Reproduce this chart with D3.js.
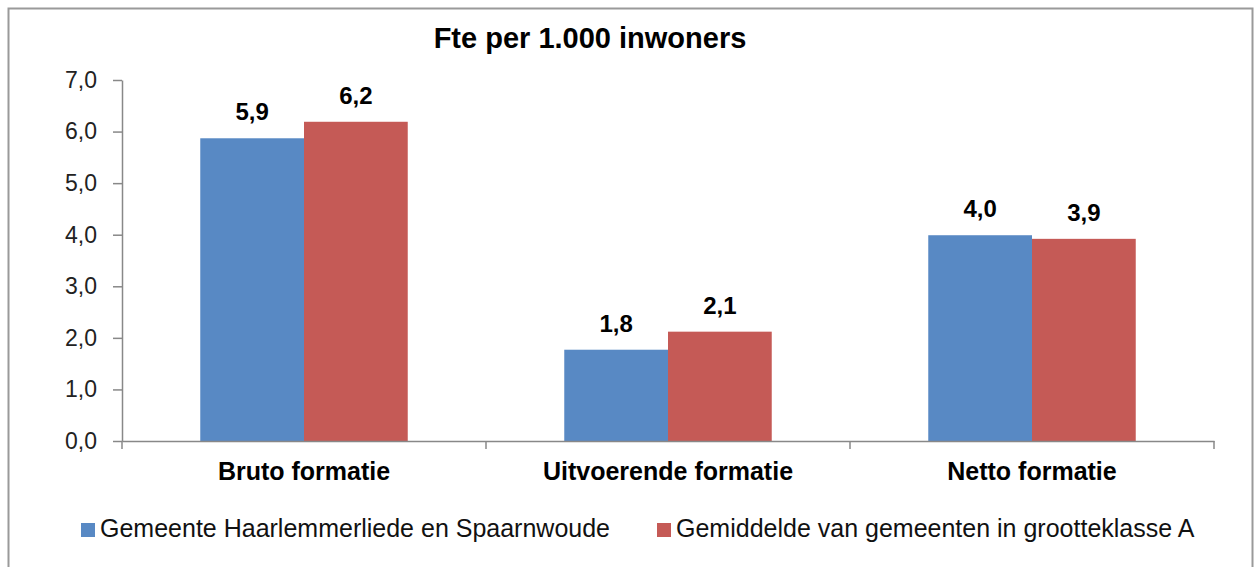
<!DOCTYPE html>
<html>
<head>
<meta charset="utf-8">
<script src="https://cdn.jsdelivr.net/npm/d3@7"></script>
<style>
  html, body { margin: 0; padding: 0; background: #fff; }
  svg { display: block; font-family: "Liberation Sans", Arial, sans-serif; }
</style>
</head>
<body>
<svg id="chart" width="1259" height="567"></svg>
<script>
const title = "Fte per 1.000 inwoners";
const categories = ["Bruto formatie", "Uitvoerende formatie", "Netto formatie"];
const seriesNames = ["Gemeente Haarlemmerliede en Spaarnwoude", "Gemiddelde van gemeenten in grootteklasse A"];
const seriesHaarlemmerliede = [5.87, 1.77, 3.99];
const seriesGrootteklasseA = [6.19, 2.12, 3.92];
const yTicks = [0, 1, 2, 3, 4, 5, 6, 7];
const colors = ["#5889C4", "#C55A56"];

const seriesValues = [seriesHaarlemmerliede, seriesGrootteklasseA];
const nl = d3.formatLocale({ decimal: ",", thousands: ".", grouping: [3], currency: ["€", ""] });
const fmt = nl.format(".1f");

const svg = d3.select("#chart");

// outer frame
svg.append("rect")
  .attr("x", 8.5).attr("y", 8.5)
  .attr("width", 1244).attr("height", 600)
  .attr("fill", "#fff").attr("stroke", "#9a9a9a").attr("stroke-width", 2);

const plot = { left: 122, right: 1214, top: 80, bottom: 441 };

const x = d3.scaleBand().domain(categories)
  .range([plot.left, plot.right]).paddingInner(0.43).paddingOuter(0.215);
const x1 = d3.scaleBand().domain(d3.range(seriesValues.length))
  .range([0, x.bandwidth()]).padding(0);
const y = d3.scaleLinear().domain([0, 7]).range([plot.bottom, plot.top]);

// title
svg.append("text")
  .attr("x", 590).attr("y", 48)
  .attr("text-anchor", "middle")
  .attr("font-size", 29).attr("font-weight", "bold").attr("fill", "#000")
  .text(title);

// bars
const groups = svg.append("g").selectAll("g")
  .data(categories).join("g")
  .attr("transform", d => `translate(${x(d)},0)`);

groups.selectAll("rect")
  .data((c, i) => seriesValues.map((s, k) => ({ k, v: s[i] })))
  .join("rect")
  .attr("x", d => x1(d.k))
  .attr("width", x1.bandwidth())
  .attr("y", d => y(d.v))
  .attr("height", d => y(0) - y(d.v))
  .attr("fill", d => colors[d.k]);

groups.selectAll("text.val")
  .data((c, i) => seriesValues.map((s, k) => ({ k, v: s[i] })))
  .join("text")
  .attr("class", "val")
  .attr("x", d => x1(d.k) + x1.bandwidth() / 2)
  .attr("y", d => y(d.v) - 18)
  .attr("text-anchor", "middle")
  .attr("font-size", 24).attr("font-weight", "bold").attr("fill", "#000")
  .text(d => fmt(d.v));

// y axis
const yAxis = d3.axisLeft(y).tickValues(yTicks).tickFormat(fmt)
  .tickSize(9).tickSizeOuter(0).tickPadding(16);
const gy = svg.append("g").attr("transform", `translate(${plot.left},0)`).call(yAxis);
gy.select(".domain").attr("stroke", "#888").attr("stroke-width", 1.5);
gy.selectAll(".tick line").attr("stroke", "#888").attr("stroke-width", 1.5);
gy.selectAll(".tick text")
  .attr("font-size", 23).attr("fill", "#222")
  .attr("font-family", "'Liberation Sans', Arial, sans-serif");

// x axis (labels)
const xAxis = d3.axisBottom(x).tickSize(0).tickPadding(0).tickSizeOuter(0);
const gx = svg.append("g").attr("transform", `translate(0,${plot.bottom})`).call(xAxis);
gx.select(".domain").attr("stroke", "#888").attr("stroke-width", 1.5);
gx.selectAll(".tick text")
  .attr("font-size", 25).attr("font-weight", "bold").attr("fill", "#000")
  .attr("font-family", "'Liberation Sans', Arial, sans-serif")
  .attr("dy", null).attr("y", 39);

// category boundary ticks
const half = (x.step() - x.bandwidth()) / 2;
const bounds = categories.map(c => x(c) - half).concat([x(categories[categories.length - 1]) + x.bandwidth() + half]);
svg.append("g").selectAll("line").data(bounds).join("line")
  .attr("x1", d => d).attr("x2", d => d)
  .attr("y1", plot.bottom).attr("y2", plot.bottom + 8)
  .attr("stroke", "#888").attr("stroke-width", 1.5);

// legend
const legendX = [81, 657];
const lg = svg.append("g").selectAll("g").data(seriesNames).join("g")
  .attr("transform", (d, i) => `translate(${legendX[i]},523)`);
lg.append("rect").attr("width", 14).attr("height", 14).attr("fill", (d, i) => colors[i]);
lg.append("text").attr("x", 19).attr("y", 14)
  .attr("font-size", 25).attr("fill", "#111")
  .text(d => d);
</script>
</body>
</html>
